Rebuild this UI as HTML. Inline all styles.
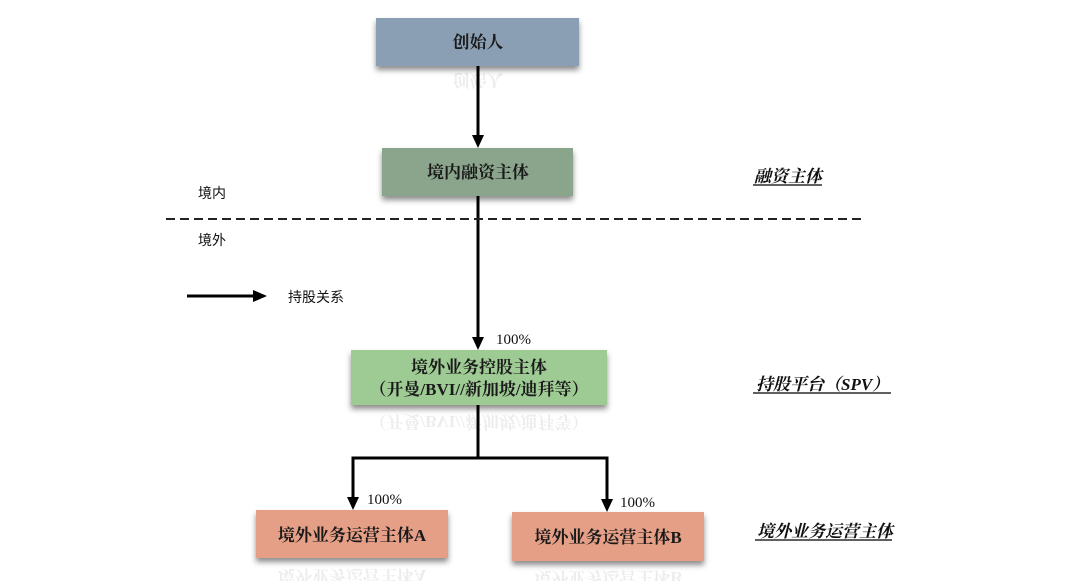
<!DOCTYPE html>
<html><head><meta charset="utf-8">
<style>
html,body{margin:0;padding:0;background:#fff;}
svg{display:block;}
.bx{font-family:"Liberation Serif","Noto Serif CJK SC",serif;font-weight:bold;font-size:17px;fill:#1a1a1a;}
.sm{font-family:"Liberation Sans","Noto Sans CJK SC",sans-serif;font-size:14px;fill:#111;}
.pc{font-family:"Liberation Serif",serif;font-size:15px;fill:#111;}
.rt{font-family:"Liberation Serif","Noto Serif CJK SC",serif;font-weight:bold;font-style:italic;font-size:17px;fill:#111;}
.rf{font-family:"Liberation Serif","Noto Serif CJK SC",serif;font-weight:bold;font-size:17px;fill:#000;opacity:0.07;}
</style></head>
<body>
<svg width="1085" height="581" viewBox="0 0 1085 581" xmlns="http://www.w3.org/2000/svg">
<defs>
<filter id="sh" x="-10%" y="-20%" width="120%" height="160%">
<feDropShadow dx="0" dy="4" stdDeviation="3" flood-color="#000" flood-opacity="0.45"/>
</filter>
</defs>

<!-- boxes -->
<rect x="376" y="18" width="203" height="48" fill="#8a9fb4" filter="url(#sh)"/>
<text class="bx" x="478" y="48" text-anchor="middle">创始人</text>
<text class="rf" x="478" y="-74" text-anchor="middle" transform="scale(1,-1)">创始人</text>

<rect x="382" y="148" width="191" height="48" fill="#8aa58c" filter="url(#sh)"/>
<text class="bx" x="478" y="178" text-anchor="middle">境内融资主体</text>

<rect x="351" y="350" width="256" height="55" fill="#9ecb94" filter="url(#sh)"/>
<text class="bx" x="479" y="373" text-anchor="middle">境外业务控股主体</text>
<text class="bx" x="479" y="395" text-anchor="middle">（开曼/BVI//新加坡/迪拜等）</text>
<text class="rf" x="479" y="-416" text-anchor="middle" transform="scale(1,-1)">（开曼/BVI//新加坡/迪拜等）</text>

<rect x="256" y="510" width="192" height="48" fill="#e59f87" filter="url(#sh)"/>
<text class="bx" x="352" y="541" text-anchor="middle">境外业务运营主体A</text>
<text class="rf" x="352" y="-570" text-anchor="middle" transform="scale(1,-1)">境外业务运营主体A</text>

<rect x="512" y="512" width="192" height="49" fill="#e59f87" filter="url(#sh)"/>
<text class="bx" x="608" y="543" text-anchor="middle">境外业务运营主体B</text>
<text class="rf" x="608" y="-572" text-anchor="middle" transform="scale(1,-1)">境外业务运营主体B</text>

<!-- connectors -->
<g stroke="#000" stroke-width="3" fill="none">
<line x1="478" y1="66" x2="478" y2="136"/>
<line x1="478" y1="196" x2="478" y2="338"/>
<polyline points="353,498 353,458 607,458 607,500"/>
<line x1="478" y1="405" x2="478" y2="458"/>
<line x1="187" y1="296" x2="254" y2="296"/>
</g>
<g fill="#000">
<polygon points="472,135 484,135 478,148"/>
<polygon points="472,337 484,337 478,350"/>
<polygon points="347,497 359,497 353,510"/>
<polygon points="601,499 613,499 607,512"/>
<polygon points="253,290 253,302 267,296"/>
</g>

<!-- dashed boundary -->
<line x1="166" y1="219" x2="862" y2="219" stroke="#222" stroke-width="2" stroke-dasharray="9,5"/>

<!-- left labels -->
<text class="sm" x="198" y="198">境内</text>
<text class="sm" x="198" y="245">境外</text>
<text class="sm" x="288" y="302">持股关系</text>

<!-- percentages -->
<text class="pc" x="496" y="344">100%</text>
<text class="pc" x="367" y="504">100%</text>
<text class="pc" x="620" y="507">100%</text>

<!-- right labels -->
<text class="rt" x="754" y="182">融资主体</text>
<line x1="753" y1="185" x2="822" y2="185" stroke="#000" stroke-width="1.2"/>
<text class="rt" x="756" y="390">持股平台（SPV）</text>
<line x1="753" y1="393" x2="891" y2="393" stroke="#000" stroke-width="1.2"/>
<text class="rt" x="757" y="537">境外业务运营主体</text>
<line x1="755" y1="540" x2="892" y2="540" stroke="#000" stroke-width="1.2"/>
</svg>
</body></html>
